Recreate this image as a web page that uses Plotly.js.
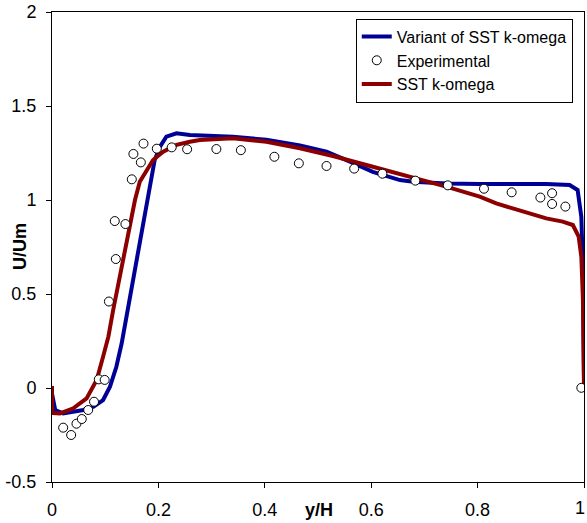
<!DOCTYPE html>
<html>
<head>
<meta charset="utf-8">
<script src="https://cdn.plot.ly/plotly-3.0.1.min.js"></script>
<style>html,body{margin:0;padding:0;background:#fff;}#chart{width:587px;height:523px;}</style>
</head>
<body>
<div id="chart"></div>
<script>
// Variant of SST k-omega
const variantX = [0, 0.006, 0.021, 0.040, 0.059, 0.078, 0.096, 0.109, 0.121, 0.131, 0.140, 0.146, 0.165, 0.175, 0.184, 0.193, 0.203, 0.215, 0.234, 0.259, 0.340, 0.403, 0.466, 0.516, 0.560, 0.603, 0.654, 0.679, 0.741, 0.804, 0.929, 0.973, 0.988, 0.995, 0.998, 1.0];
const variantY = [-0.03, -0.117, -0.135, -0.126, -0.117, -0.100, -0.064, 0.007, 0.113, 0.238, 0.380, 0.468, 0.787, 0.947, 1.089, 1.213, 1.284, 1.337, 1.355, 1.346, 1.337, 1.320, 1.290, 1.257, 1.204, 1.150, 1.106, 1.097, 1.088, 1.085, 1.085, 1.080, 1.053, 0.910, 0.630, 0.015];

// SST k-omega
const sstX = [0, 0, 0.015, 0.040, 0.065, 0.084, 0.096, 0.106, 0.115, 0.140, 0.146, 0.156, 0.165, 0.178, 0.190, 0.209, 0.234, 0.259, 0.278, 0.340, 0.403, 0.466, 0.528, 0.591, 0.654, 0.679, 0.741, 0.804, 0.835, 0.866, 0.898, 0.929, 0.960, 0.979, 0.990, 0.995, 0.998, 1.0];
const sstY = [0.01, -0.133, -0.135, -0.108, -0.055, 0.043, 0.166, 0.273, 0.415, 0.787, 0.876, 1.0, 1.097, 1.160, 1.213, 1.257, 1.293, 1.310, 1.319, 1.328, 1.310, 1.275, 1.234, 1.186, 1.138, 1.118, 1.071, 1.018, 0.982, 0.955, 0.929, 0.902, 0.885, 0.867, 0.805, 0.698, 0.470, 0.015];

// Experimental
const expX = [0.021, 0.036, 0.046, 0.056, 0.068, 0.079, 0.088, 0.099, 0.107, 0.120, 0.118, 0.138, 0.150, 0.153, 0.167, 0.172, 0.197, 0.225, 0.254, 0.309, 0.355, 0.418, 0.464, 0.516, 0.568, 0.621, 0.683, 0.744, 0.812, 0.864, 0.918, 0.940, 0.940, 0.965, 0.995];
const expY = [-0.211, -0.250, -0.190, -0.165, -0.117, -0.073, 0.046, 0.043, 0.460, 0.686, 0.888, 0.872, 1.110, 1.245, 1.200, 1.300, 1.273, 1.280, 1.270, 1.271, 1.265, 1.230, 1.195, 1.181, 1.167, 1.140, 1.103, 1.078, 1.060, 1.041, 1.013, 1.036, 0.979, 0.965, 0.001];

const xTicks = [0, 0.2, 0.4, 0.6, 0.8, 1];
const xTickText = ['0', '0.2', '0.4', '0.6', '0.8', '1'];
const yTicks = [-0.5, 0, 0.5, 1, 1.5, 2];
const yTickText = ['-0.5', '0', '0.5', '1', '1.5', '2'];

const traces = [
  {x: variantX, y: variantY, mode: 'lines', name: 'Variant of SST k-omega', legendrank: 1,
   line: {color: '#000096', width: 4}},
  {x: sstX, y: sstY, mode: 'lines', name: 'SST k-omega', legendrank: 3,
   line: {color: '#8C0000', width: 4}},
  {x: expX, y: expY, mode: 'markers', name: 'Experimental', legendrank: 2,
   marker: {symbol: 'circle', size: 9, color: '#ffffff', line: {color: '#000000', width: 1}}}
];

// the last x tick label sits at the right edge: draw it as an annotation kept inside the page
const lastIdx = xTicks.length - 1;
const shownXText = xTickText.map((t, i) => i === lastIdx ? ' ' : t);

const fontFam = 'Liberation Sans, Arial, sans-serif';
const layout = {
  width: 587, height: 523,
  margin: {l: 52, r: 3, t: 12, b: 41, pad: 0},
  paper_bgcolor: '#ffffff', plot_bgcolor: '#ffffff',
  font: {family: fontFam, size: 18, color: '#000'},
  showlegend: true,
  legend: {x: 0.571, y: 0.986, xanchor: 'left', yanchor: 'top', bgcolor: '#ffffff',
    bordercolor: '#000', borderwidth: 1, font: {family: fontFam, size: 16, color: '#000'},
    tracegroupgap: 0, itemwidth: 30},
  xaxis: {range: [0, 1], tickvals: xTicks, ticktext: shownXText, showgrid: false, zeroline: false,
    showline: true, mirror: true, linecolor: '#000', linewidth: 1, ticklabeloverflow: 'allow',
    ticks: 'outside', ticklen: 5, tickcolor: '#000', tickfont: {size: 18}, ticklabelstandoff: 6},
  yaxis: {range: [-0.5, 2], tickvals: yTicks, ticktext: yTickText, showgrid: false, zeroline: false,
    showline: true, mirror: true, linecolor: '#000', linewidth: 1,
    ticks: 'outside', ticklen: 5, tickcolor: '#000', tickfont: {size: 18}, ticklabelstandoff: 6},
  annotations: [
    {text: '<b>y/H</b>', xref: 'paper', yref: 'paper', x: 0.502, y: -0.060, xanchor: 'center', yanchor: 'middle',
     showarrow: false, font: {family: fontFam, size: 18, color: '#000'}},
    {text: '<b>U/Um</b>', xref: 'paper', yref: 'paper', x: -0.060, y: 0.50, xanchor: 'center', yanchor: 'middle',
     textangle: -90, showarrow: false, font: {family: fontFam, size: 18, color: '#000'}},
    {text: xTickText[lastIdx], xref: 'x', yref: 'paper', x: xTicks[lastIdx], y: -0.056, xanchor: 'right', yanchor: 'middle',
     xshift: 3, showarrow: false, font: {family: fontFam, size: 18, color: '#000'}}
  ]
};

Plotly.newPlot('chart', traces, layout, {displayModeBar: false, staticPlot: true});
</script>
</body>
</html>
